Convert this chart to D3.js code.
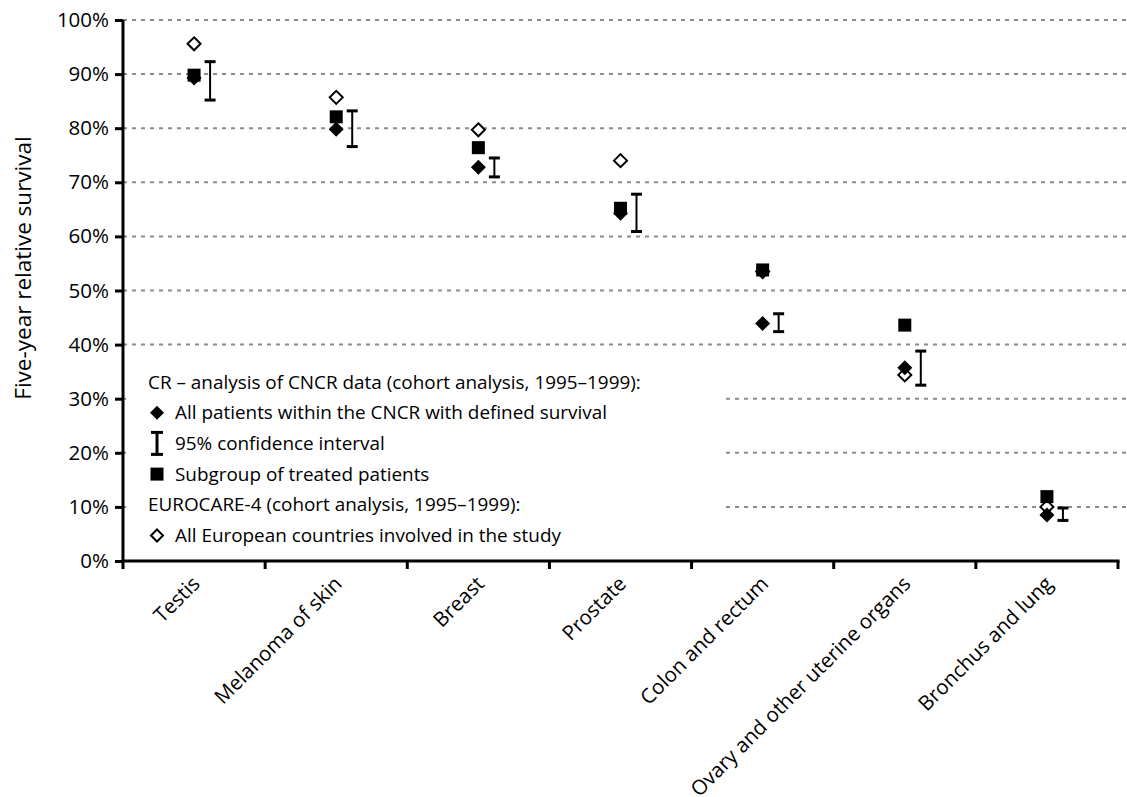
<!DOCTYPE html>
<html>
<head>
<meta charset="utf-8">
<script src="https://cdn.jsdelivr.net/npm/d3@7"></script>
<style>
  html, body { margin: 0; padding: 0; background: #fff; }
  svg { display: block; }
</style>
</head>
<body>
<svg id="chart" width="1127" height="797"></svg>
<script>
// Five-year relative survival by cancer site (fractions of 1)
const categories = ["Testis", "Melanoma of skin", "Breast", "Prostate",
  "Colon and rectum", "Ovary and other uterine organs", "Bronchus and lung"];
// CNCR – all patients with defined survival
const allPatients = [0.893, 0.798, 0.728, 0.643, 0.439, 0.357, 0.085];
// CNCR – 95% confidence interval bounds
const ciLow  = [0.852, 0.766, 0.710, 0.609, 0.424, 0.325, 0.075];
const ciHigh = [0.923, 0.832, 0.745, 0.678, 0.457, 0.388, 0.098];
// CNCR – subgroup of treated patients
const treated = [0.898, 0.821, 0.764, 0.652, 0.538, 0.436, 0.119];
// EUROCARE-4 – all European countries
const eurocare = [0.956, 0.857, 0.797, 0.740, 0.535, 0.344, 0.100];
const yTicks = [0, 0.1, 0.2, 0.3, 0.4, 0.5, 0.6, 0.7, 0.8, 0.9, 1.0];

const legendLines = [
  { type: "header", text: "CR – analysis of CNCR data (cohort analysis, 1995–1999):" },
  { type: "filled", text: "All patients within the CNCR with defined survival" },
  { type: "ci", text: "95% confidence interval" },
  { type: "square", text: "Subgroup of treated patients" },
  { type: "header", text: "EUROCARE-4 (cohort analysis, 1995–1999):" },
  { type: "open", text: "All European countries involved in the study" }
];

const FONT = "'Open Sans', 'DejaVu Sans', sans-serif";
const svg = d3.select("#chart");
const W = 1127;
const plotL = 123, plotR = 1118, plotT = 20, plotB = 561;

const x = d3.scaleBand().domain(categories).range([plotL, plotR]).paddingInner(0).paddingOuter(0);
const y = d3.scaleLinear().domain([0, 1]).range([plotB, plotT]);
const cx = c => x(c) + x.bandwidth() / 2;
const ciOffset = 16;

// dashed horizontal gridlines
svg.append("g").selectAll("line")
  .data(yTicks.filter(t => t > 0))
  .join("line")
  .attr("x1", plotL).attr("x2", W)
  .attr("y1", d => y(d)).attr("y2", d => y(d))
  .attr("stroke", "#8c8c8c")
  .attr("stroke-width", 2)
  .attr("stroke-dasharray", "4,5");

// legend background hides the grid behind it
svg.append("rect")
  .attr("x", plotL + 3).attr("y", 360)
  .attr("width", 597).attr("height", 198)
  .attr("fill", "#fff");

// markers
const diamond = (s) => `M0,${-s}L${s},0L0,${s}L${-s},0Z`;
const rows = categories.map((c, i) => ({
  c, all: allPatients[i], lo: ciLow[i], hi: ciHigh[i], tr: treated[i], eu: eurocare[i]
}));

svg.append("g").selectAll("path")
  .data(rows).join("path")
  .attr("d", diamond(6.5))
  .attr("transform", d => `translate(${cx(d.c)},${y(d.eu)})`)
  .attr("fill", "#fff").attr("stroke", "#000").attr("stroke-width", 2);

svg.append("g").selectAll("rect")
  .data(rows).join("rect")
  .attr("x", d => cx(d.c) - 6.5).attr("y", d => y(d.tr) - 6.5)
  .attr("width", 13).attr("height", 13)
  .attr("fill", "#000");

svg.append("g").selectAll("path")
  .data(rows).join("path")
  .attr("d", diamond(7.5))
  .attr("transform", d => `translate(${cx(d.c)},${y(d.all)})`)
  .attr("fill", "#000");

// confidence intervals
const ci = svg.append("g").selectAll("g").data(rows).join("g")
  .attr("transform", d => `translate(${cx(d.c) + ciOffset},0)`);
ci.append("line")
  .attr("x1", 0).attr("x2", 0)
  .attr("y1", d => y(d.hi)).attr("y2", d => y(d.lo))
  .attr("stroke", "#000").attr("stroke-width", 2);
ci.append("line")
  .attr("x1", -5.5).attr("x2", 5.5)
  .attr("y1", d => y(d.hi)).attr("y2", d => y(d.hi))
  .attr("stroke", "#000").attr("stroke-width", 3);
ci.append("line")
  .attr("x1", -5.5).attr("x2", 5.5)
  .attr("y1", d => y(d.lo)).attr("y2", d => y(d.lo))
  .attr("stroke", "#000").attr("stroke-width", 3);

// y axis
const yAxis = svg.append("g")
  .attr("transform", `translate(${plotL},0)`)
  .call(d3.axisLeft(y).tickValues(yTicks).tickFormat(d3.format(".0%")).tickSize(8).tickPadding(6));
yAxis.select(".domain").attr("stroke-width", 3).attr("d", `M0,${plotT}V${plotB + 1.5}`);
yAxis.selectAll(".tick line").attr("stroke-width", 3);
yAxis.selectAll("text").attr("font-family", FONT).attr("font-size", 20.5).attr("fill", "#000");

// x axis with ticks on category boundaries
const xAxis = svg.append("g").attr("transform", `translate(0,${plotB})`);
xAxis.append("line")
  .attr("x1", plotL - 1.5).attr("x2", plotR + 1.5)
  .attr("stroke", "#000").attr("stroke-width", 3);
xAxis.selectAll("line.tk")
  .data(categories.map(c => x(c)).concat([plotR]))
  .join("line").attr("class", "tk")
  .attr("x1", d => d).attr("x2", d => d)
  .attr("y1", 0).attr("y2", 8)
  .attr("stroke", "#000").attr("stroke-width", 3);
xAxis.selectAll("text")
  .data(categories).join("text")
  .attr("transform", d => `translate(${cx(d) + 7},${24}) rotate(-45)`)
  .attr("text-anchor", "end")
  .attr("font-family", FONT).attr("font-size", 20.5)
  .text(d => d);

// y axis title
svg.append("text")
  .attr("transform", `translate(31,268) rotate(-90)`)
  .attr("text-anchor", "middle")
  .attr("font-family", FONT).attr("font-size", 22.5)
  .text("Five-year relative survival");

// legend
const lg = svg.append("g");
const lineY = i => 382 + i * 30.7;
legendLines.forEach((l, i) => {
  const yy = lineY(i);
  const g = lg.append("g").attr("transform", `translate(0,${yy})`);
  const tx = l.type === "header" ? 148 : 175;
  g.append("text")
    .attr("x", tx).attr("y", 0).attr("dy", "0.35em")
    .attr("font-family", FONT).attr("font-size", 18.9)
    .text(l.text);
  const mx = 157;
  if (l.type === "filled") {
    g.append("path").attr("d", diamond(7)).attr("transform", `translate(${mx},0)`).attr("fill", "#000");
  } else if (l.type === "open") {
    g.append("path").attr("d", diamond(6)).attr("transform", `translate(${mx},0)`)
      .attr("fill", "#fff").attr("stroke", "#000").attr("stroke-width", 2);
  } else if (l.type === "square") {
    g.append("rect").attr("x", mx - 6.5).attr("y", -6.5).attr("width", 13).attr("height", 13).attr("fill", "#000");
  } else if (l.type === "ci") {
    g.append("line").attr("x1", mx).attr("x2", mx).attr("y1", -11).attr("y2", 11).attr("stroke", "#000").attr("stroke-width", 3);
    g.append("line").attr("x1", mx - 6).attr("x2", mx + 6).attr("y1", -11).attr("y2", -11).attr("stroke", "#000").attr("stroke-width", 3);
    g.append("line").attr("x1", mx - 6).attr("x2", mx + 6).attr("y1", 11).attr("y2", 11).attr("stroke", "#000").attr("stroke-width", 3);
  }
});
</script>
</body>
</html>
